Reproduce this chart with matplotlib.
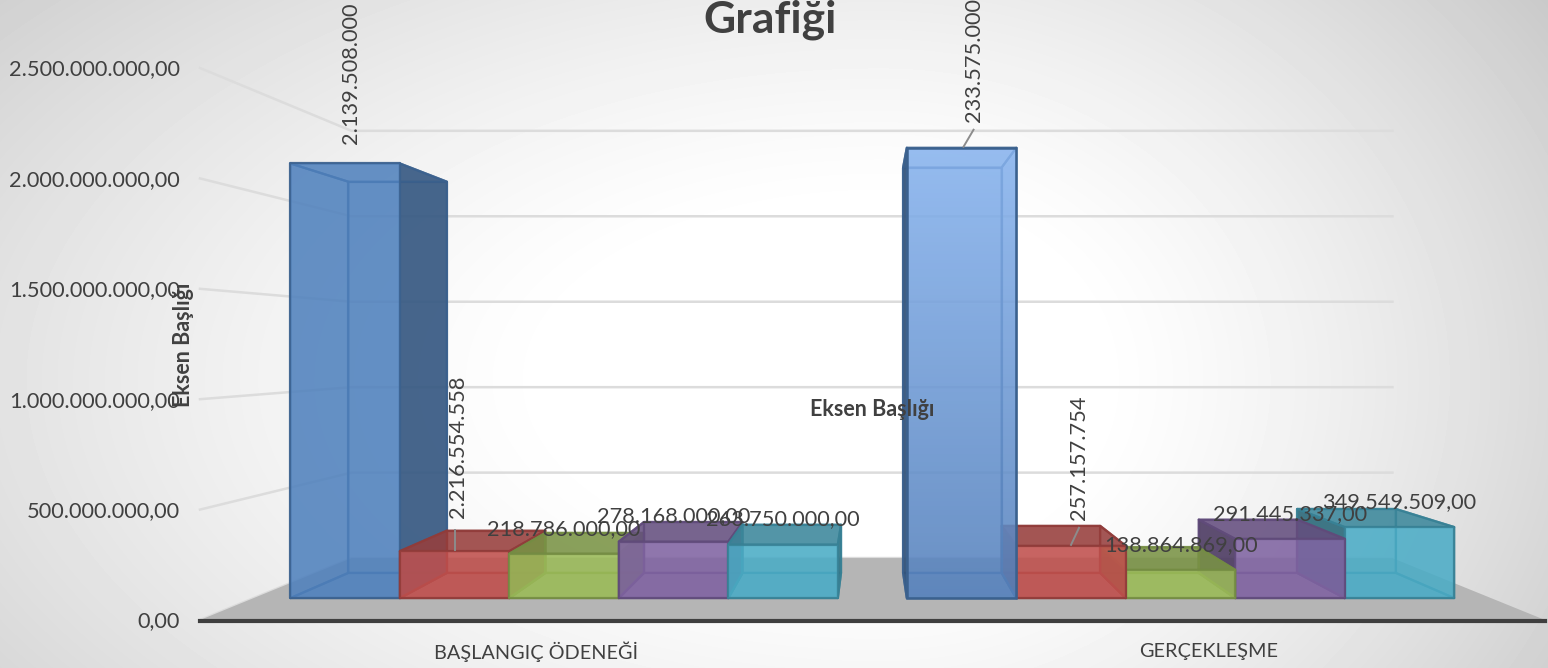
import numpy as np
import matplotlib
matplotlib.use("Agg")
import matplotlib.pyplot as plt
from matplotlib.patches import Polygon

plt.rcParams['font.family'] = ['Lato', 'DejaVu Sans']

categories = ["BAŞLANGIÇ ÖDENEĞİ", "GERÇEKLEŞME"]
series_colors = ["#4f81bd", "#c0504d", "#9bbb59", "#8064a2", "#4bacc6"]
# heights as drawn in the picture (the labels do not always agree with them)
baslangic_values = [2139508000, 231000000, 218786000, 278168000, 263750000]
gerceklesme_values = [2217000000, 257157754, 138864869, 291445337, 349549509]
baslangic_labels = ["2.139.508.000", "2.216.554.558", "218.786.000,00", "278.168.000,00", "263.750.000,00"]
gerceklesme_labels = ["233.575.000", "257.157.754", "138.864.869,00", "291.445.337,00", "349.549.509,00"]
tick_values = [0, 500000000, 1000000000, 1500000000, 2000000000, 2500000000]
tick_labels = ["0,00", "500.000.000,00", "1.000.000.000,00", "1.500.000.000,00", "2.000.000.000,00", "2.500.000.000,00"]

# perspective set up, all in pixels of the picture
FLOOR_L, FLOOR_R, FLOOR_Y = 200, 1545, 620
VX, VY = 870, 346
PX_PER_UNIT = 110.4 / 5e8
S_FRONT, S_BACK, S_WALL = 0.92, 0.828, 0.774
GROUP_START, GROUP_STEP, BAR_PX = 240, 670, 119
TXT = "#404040"


def project(x, val, s):
    y = FLOOR_Y - val * PX_PER_UNIT
    return VX + s * (x - VX), VY + s * (y - VY)


def shade(col, k):
    return tuple(c * k for c in matplotlib.colors.to_rgb(col))


def face(ax, pts, col, alpha, edge, z):
    ax.add_patch(Polygon(pts, closed=True, facecolor=col + (alpha,), edgecolor=edge + (0.85,),
                         lw=1.6, joinstyle='round', zorder=z))


fig = plt.figure(figsize=(15.48, 6.68), dpi=100)
ax = fig.add_axes([0, 0, 1, 1])

# background glow
yy, xx = np.mgrid[0:668, 0:1548]
dx = (xx - 880) / np.where(xx < 880, 1050, 700)
dy = (yy - 380) / 560
r = np.sqrt(dx ** 2 + dy ** 2)
bg = 255 - 64 * np.clip(r - 0.3, 0, None) ** 1.3
ax.imshow(bg, cmap='gray', vmin=0, vmax=255, extent=(0, 1548, 668, 0), aspect='auto', zorder=0)

# walls and floor
for v, lab in zip(tick_values, tick_labels):
    x0, y0 = project(FLOOR_L, v, 1)
    x1, y1 = project(FLOOR_L, v, S_WALL)
    x2, y2 = project(FLOOR_R, v, S_WALL)
    ax.plot([x0, x1, x2], [y0, y1, y2], color="#dcdcdc", lw=1.8, zorder=1)
    ax.text(x0 - 20, y0 + 1.5, lab, ha='right', va='center', fontsize=15.7, color=TXT, zorder=20)

ax.add_patch(Polygon([project(FLOOR_L, 0, 1), project(FLOOR_R, 0, 1),
                      project(FLOOR_R, 0, S_WALL), project(FLOOR_L, 0, S_WALL)],
                     closed=True, facecolor="#b5b5b5", edgecolor='none', zorder=2))
ax.plot([FLOOR_L, FLOOR_R], [FLOOR_Y + 1, FLOOR_Y + 1], color="#3f3f3f", lw=3, zorder=3)

slot = (FLOOR_R - FLOOR_L) / len(categories)
all_values = [baslangic_values, gerceklesme_values]
all_labels = [baslangic_labels, gerceklesme_labels]
# label offsets from the front top centre of each bar
label_dx = [[6, 3, 0, 0, 0], [12, 8, 0, 0, 0]]
label_gap = [[19, 33, 25, 25, 25], [26, 26, 25, 25, 25]]
label_rot = [[90, 90, 0, 0, 0], [90, 90, 0, 0, 0]]
leader_from = [[None, -3, None, None, None], [-10, -8, None, None, None]]
leader_to = [[None, -3, None, None, None], [0, 0, None, None, None]]

z = 4
for c, vals in enumerate(all_values):
    order = range(5) if c == 0 else range(4, -1, -1)
    for i in order:
        xl = GROUP_START + GROUP_STEP * c + BAR_PX * i
        xr = xl + BAR_PX
        v = vals[i]
        col = matplotlib.colors.to_rgb(series_colors[i])
        edge = shade(col, 0.75)
        fbl, fbr = project(xl, 0, S_FRONT), project(xr, 0, S_FRONT)
        ftl, ftr = project(xl, v, S_FRONT), project(xr, v, S_FRONT)
        bbl, bbr = project(xl, 0, S_BACK), project(xr, 0, S_BACK)
        btl, btr = project(xl, v, S_BACK), project(xr, v, S_BACK)
        face(ax, [bbl, bbr, btr, btl], col, 0.2, edge, z)
        face(ax, [fbl, fbr, bbr, bbl], col, 0.35, edge, z + 1)
        # the side facing the viewer is the one towards the vanishing point
        if c == 0:
            face(ax, [fbr, bbr, btr, ftr], shade(col, 0.68), 0.9, edge, z + 2)
            face(ax, [fbl, bbl, btl, ftl], col, 0.15, edge, z + 2)
        else:
            face(ax, [fbl, bbl, btl, ftl], shade(col, 0.62), 0.9, edge, z + 2)
            face(ax, [fbr, bbr, btr, ftr], col, 0.15, edge, z + 2)
        # tall bars rise above the eye line, so the top is seen through the front
        top_alpha = 0.1 if ftl[1] < btl[1] else 0.85
        face(ax, [ftl, ftr, btr, btl], shade(col, 0.78), top_alpha, edge, z + 3)
        if c == 1 and i == 0:
            # this one bar has a lighter gradient on its front
            ramp = np.linspace(0, 1, 256)
            rgba = np.zeros((256, 1, 4))
            rgba[:, 0, 0] = 0.54 - 0.2 * ramp
            rgba[:, 0, 1] = 0.71 - 0.2 * ramp
            rgba[:, 0, 2] = 0.94 - 0.2 * ramp
            rgba[:, 0, 3] = 0.86
            im = ax.imshow(rgba, extent=(fbl[0], fbr[0], fbl[1], ftl[1]), aspect='auto', zorder=z + 4)
            p = Polygon([fbl, fbr, ftr, ftl], closed=True, facecolor='none', edgecolor=edge, lw=1.8, zorder=z + 4)
            ax.add_patch(p)
            im.set_clip_path(p)
        else:
            face(ax, [fbl, fbr, ftr, ftl], col, 0.85, edge, z + 4)
        z += 5

        lx = (ftl[0] + ftr[0]) / 2 + label_dx[c][i]
        ly = ftl[1] - label_gap[c][i]
        if label_rot[c][i]:
            ax.text(lx, ly, all_labels[c][i], rotation=90, ha='center', va='bottom', fontsize=15.7,
                    color=TXT, zorder=200)
        else:
            ax.text(lx, ly, all_labels[c][i], ha='center', va='center', fontsize=15.7, color=TXT, zorder=200)
        if leader_from[c][i] is not None:
            ax.plot([lx + leader_from[c][i], lx + leader_to[c][i]], [ftl[1] - 1, ly + (12 if c == 0 else 8)],
                    color="#8c8c8c", lw=1.4, zorder=199)

for c, name in enumerate(categories):
    ax.text(FLOOR_L + slot * (c + 0.5), 652, name, ha='center', va='center', fontsize=14.3, color=TXT, zorder=20)

ax.text(770, 20, "Grafiği", ha='center', va='center', fontsize=32, fontweight='bold', color=TXT, zorder=20)
ax.text(183, 345, "Eksen Başlığı", rotation=90, ha='center', va='center', fontsize=15.5, fontweight='bold',
        color=TXT, zorder=20)
ax.text(872, 410, "Eksen Başlığı", ha='center', va='center', fontsize=15.5, fontweight='bold', color=TXT, zorder=200)

ax.set_xlim(0, 1548)
ax.set_ylim(668, 0)
ax.axis('off')

fig.savefig("out.png", dpi=100)
